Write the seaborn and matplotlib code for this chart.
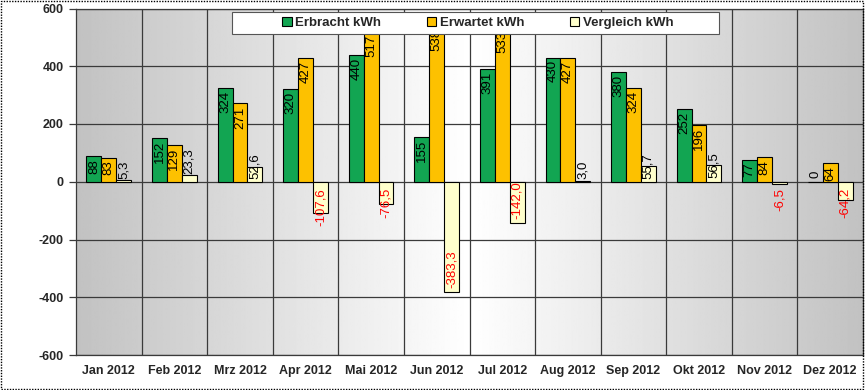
import numpy as np
import pandas as pd
import seaborn as sns
import matplotlib.pyplot as plt
from matplotlib.patches import Rectangle

# data
months = ['Jan 2012', 'Feb 2012', 'Mrz 2012', 'Apr 2012', 'Mai 2012', 'Jun 2012',
          'Jul 2012', 'Aug 2012', 'Sep 2012', 'Okt 2012', 'Nov 2012', 'Dez 2012']
erbracht = [88, 152, 324, 320, 440, 155, 391, 430, 380, 252, 77, 0]
erwartet = [83, 129, 271, 427, 517, 538, 533, 427, 324, 196, 84, 64]
vergleich = [5.3, 23.3, 52.6, -107.6, -76.5, -383.3, -142.0, 3.0, 55.7, 56.5, -6.5, -64.2]
series = ['Erbracht kWh', 'Erwartet kWh', 'Vergleich kWh']
colors = ['#12a552', '#fdc100', '#ffffcc']
yticks = [-600, -400, -200, 0, 200, 400, 600]

df = pd.DataFrame({
    'Monat': months * 3,
    'kWh': erbracht + erwartet + vergleich,
    'Serie': [s for s in series for _ in months],
})

sns.set_theme(style='white')
plt.rcParams['font.family'] = ['Liberation Sans', 'DejaVu Sans']
plt.rcParams['axes.unicode_minus'] = False

fig = plt.figure(figsize=(8.65, 3.9), dpi=100)
ax = fig.add_axes([76 / 865, 1 - 355 / 390, 787 / 865, 346.5 / 390])

# grey gradient background, light in the middle
xs = np.linspace(-0.5, 11.5, 600)
shade = 1 - 0.24 * np.abs(xs - 5.5) / 6
ax.imshow(shade[None, :], cmap='gray', vmin=0, vmax=1,
          extent=(-0.5, 11.5, -600, 600), aspect='auto', zorder=0)

# grid
for y in yticks:
    ax.axhline(y, color='#3a3a3a', lw=0.9, zorder=1)
for xb in np.arange(0.5, 11.5, 1):
    ax.axvline(xb, color='#3a3a3a', lw=0.9, zorder=1)

sns.barplot(data=df, x='Monat', y='kWh', hue='Serie', palette=colors,
            saturation=1, width=0.68, edgecolor='black', linewidth=0.8,
            ax=ax, zorder=2)

# value labels
for i, cont in enumerate(ax.containers):
    for bar in cont:
        v = bar.get_height()
        xc = bar.get_x() + bar.get_width() / 2
        kw = dict(rotation=90, ha='center', fontsize=9.5, textcoords='offset points', zorder=3)
        if i < 2:
            txt = f'{v:.0f}'
            if v > 0:
                ax.annotate(txt, (xc, v), xytext=(0, -2), va='top', color='black', **kw)
            else:
                ax.annotate(txt, (xc, v), xytext=(0, 3), va='bottom', color='black', **kw)
        else:
            txt = f'{v:.1f}'.replace('.', ',')
            if v >= 30:
                ax.annotate(txt, (xc, v), xytext=(0, 0), va='center', color='black', **kw)
            elif v >= 0:
                ax.annotate(txt, (xc, v), xytext=(0, 1), va='bottom', color='black', **kw)
            elif v < -130:
                ax.annotate(txt, (xc, v), xytext=(0, 3), va='bottom', color='#ff0000', **kw)
            else:
                ax.annotate(txt, (xc, 0), xytext=(0, -4.5), va='top', color='#ff0000', **kw)

ax.set_xlim(-0.5, 11.5)
ax.set_ylim(-600, 600)
ax.set_yticks(yticks)
ax.set_xlabel('')
ax.set_ylabel('')
ax.tick_params(axis='y', left=True, length=5, width=0.9, direction='out', pad=4,
               labelsize=9, color='#3a3a3a')
ax.tick_params(axis='x', bottom=False, length=0, pad=7, labelsize=9)
for lab in ax.get_xticklabels() + ax.get_yticklabels():
    lab.set_fontweight('bold')
for sp in ax.spines.values():
    sp.set_visible(True)
    sp.set_color('#3a3a3a')
    sp.set_linewidth(0.9)

# legend: box drawn separately, entries centred inside it
ax.add_patch(Rectangle((0.198, 0.926), 0.619, 0.0635, transform=ax.transAxes,
                       facecolor='white', edgecolor='#555555', lw=0.8, zorder=4))
sns.move_legend(ax, loc='center', bbox_to_anchor=(0.511, 0.958),
                ncol=3, title=None, frameon=False,
                handlelength=0.7, handleheight=0.7, handletextpad=0.3,
                columnspacing=3.45, prop={'weight': 'bold', 'size': 9.5})

fig.patches.append(Rectangle((0.001, 0.002), 0.997, 0.995, transform=fig.transFigure,
                             fill=False, ls=(0, (1, 1)), lw=1, ec='black'))

fig.savefig('out.png', dpi=100)
